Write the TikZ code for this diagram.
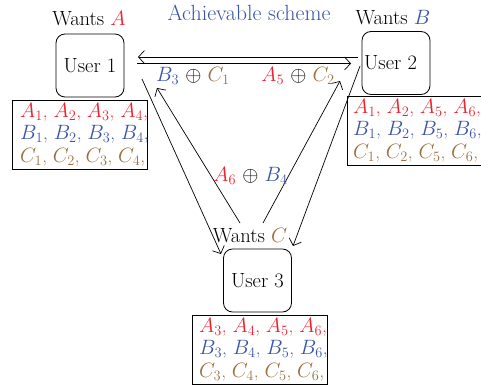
\documentclass[tikz,border=0pt]{standalone}
\usetikzlibrary{arrows.meta}
\definecolor{cA}{RGB}{236,34,48}
\definecolor{cB}{RGB}{58,84,168}
\definecolor{cC}{RGB}{156,112,64}
\begin{document}
\begin{tikzpicture}[x=1pt,y=-1pt,
  font=\fontsize{20.5}{22.5}\selectfont,
  user/.style={draw, rounded corners=9pt, line width=0.8pt, minimum width=68pt, minimum height=63pt, inner sep=0pt},
  store/.style={draw, line width=0.8pt, minimum width=135pt, minimum height=69pt, inner sep=0pt},
  storetext/.style={anchor=west, align=left, inner sep=0pt, font=\fontsize{19.2}{22.5}\selectfont},
  lbl/.style={inner sep=0pt},
  arr/.style={-{Straight Barb[length=6pt,width=13pt]}, line width=0.7pt}]
\useasboundingbox (0,0) rectangle (481,385);

% title
\node[lbl, text=cB, font=\fontsize{22}{24}\selectfont] (title) at (249,13) {Achievable scheme};

% users
\node[user] (u1) at (90,65.5) {User 1};
\node[user] (u2) at (396,63) {};
\node[lbl, anchor=west] (u2t) at (364,63) {User 2};
\node[user] (u3) at (257.5,280.5) {User 3};

% wants
\node[lbl] (w1) at (89,19) {Wants \textcolor{cA}{$A$}};
\node[lbl] (w2) at (393,18) {Wants \textcolor{cB}{$B$}};
\node[lbl] (w3) at (250,236) {Wants \textcolor{cC}{$C$}};

% stores
\node[store] (s1) at (80.3,135.3) {};
\node[storetext] (s1t) at (20,134.5) {\textcolor{cA}{$A_1$, $A_2$, $A_3$, $A_4$,}\\ \textcolor{cB}{$B_1$, $B_2$, $B_3$, $B_4$,}\\ \textcolor{cC}{$C_1$, $C_2$, $C_3$, $C_4$,}};
\node[store] (s2) at (414.5,131.3) {};
\node[storetext] (s2t) at (353,130.5) {\textcolor{cA}{$A_1$, $A_2$, $A_5$, $A_6$,}\\ \textcolor{cB}{$B_1$, $B_2$, $B_5$, $B_6$,}\\ \textcolor{cC}{$C_1$, $C_2$, $C_5$, $C_6$,}};
\node[store] (s3) at (260,350) {};
\node[storetext] (s3t) at (199,349.5) {\textcolor{cA}{$A_3$, $A_4$, $A_5$, $A_6$,}\\ \textcolor{cB}{$B_3$, $B_4$, $B_5$, $B_6$,}\\ \textcolor{cC}{$C_3$, $C_4$, $C_5$, $C_6$,}};

% connector end points
\coordinate (p21s) at (358,57);
\coordinate (p21e) at (138,57);
\coordinate (p12s) at (137,63.5);
\coordinate (p12e) at (351,63.5);
\coordinate (p13s) at (142,79);
\coordinate (p13e) at (221,254);
\coordinate (p31s) at (240,223);
\coordinate (p31e) at (157,88);
\coordinate (p32s) at (263,223);
\coordinate (p32e) at (340,81);
\coordinate (p23s) at (360,66);
\coordinate (p23e) at (293,246);

\draw[arr] (p21s) -- (p21e);
\draw[arr] (p12s) -- (p12e);
\draw[arr] (p13s) -- (p13e);
\draw[arr] (p31s) -- (p31e);
\draw[arr] (p32s) -- (p32e);
\draw[arr] (p23s) -- (p23e);

% transmitted labels
\node[lbl] (t1) at (193,76) {\textcolor{cB}{$B_3$} $\oplus$ \textcolor{cC}{$C_1$}};
\node[lbl] (t2) at (298,76) {\textcolor{cA}{$A_5$} $\oplus$ \textcolor{cC}{$C_2$}};
\node[lbl] (t3) at (250.5,176) {\textcolor{cA}{$A_6$} $\oplus$ \textcolor{cB}{$B_4$}};
\end{tikzpicture}
\end{document}
